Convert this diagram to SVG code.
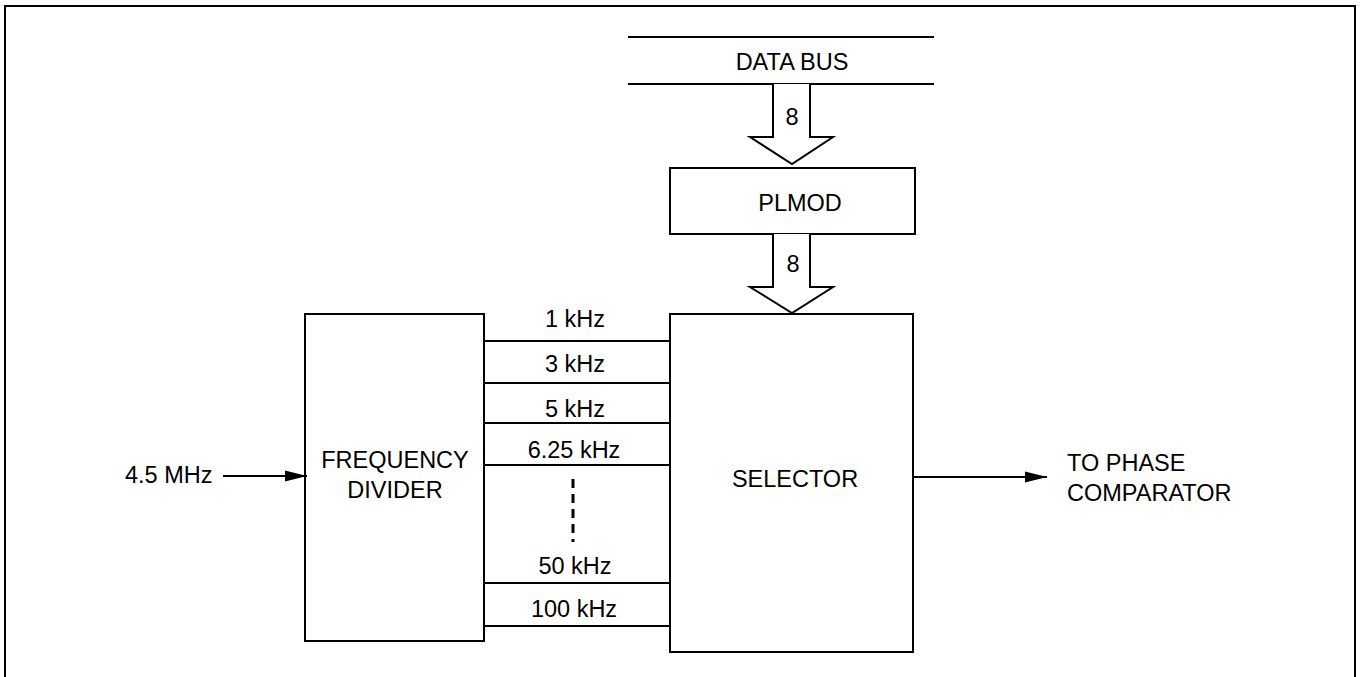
<svg xmlns="http://www.w3.org/2000/svg" width="1360" height="677" viewBox="0 0 1360 677">
<style>
.l{stroke:#000;stroke-width:2;fill:none}
.b{stroke:#000;stroke-width:2;fill:#fff}
.t{font-family:"Liberation Sans",Arial,sans-serif;font-size:23.5px;fill:#000}
.c{text-anchor:middle}
</style>
<defs>
<marker id="ah" markerWidth="22" markerHeight="12" refX="22" refY="6" orient="auto" markerUnits="userSpaceOnUse">
<path d="M0,0.5 L22,6 L0,11.5 Z" fill="#000"/>
</marker>
</defs>
<rect width="1360" height="677" fill="#fff"/>
<path class="l" d="M5,690 V6 H1355 V690"/>
<g id="databus">
<line class="l" x1="628" y1="37" x2="934" y2="37"/>
<line class="l" x1="628" y1="84" x2="934" y2="84"/>
<text class="t c" x="792" y="70">DATA BUS</text>
</g>
<g id="plmod">
<rect class="b" x="670" y="168" width="245" height="66"/>
<text class="t c" x="800" y="211">PLMOD</text>
</g>
<g id="selector">
<rect class="b" x="670" y="314" width="243" height="338"/>
<text class="t c" x="795" y="487">SELECTOR</text>
</g>
<g id="divider">
<rect class="b" x="305" y="314" width="179" height="327"/>
<text class="t c" x="395" y="468">FREQUENCY</text>
<text class="t c" x="395" y="498">DIVIDER</text>
</g>
<g id="connectors">
<path class="b" d="M773,84 V137 H750 L792,164 L833,137 H810 V84"/>
<text class="t c" x="792" y="125">8</text>
<path class="b" d="M773,234 V287 H750 L792,313 L833,287 H810 V234"/>
<text class="t c" x="793" y="272">8</text>
<line class="l" x1="484" y1="341" x2="670" y2="341"/>
<line class="l" x1="484" y1="383" x2="670" y2="383"/>
<line class="l" x1="484" y1="423" x2="670" y2="423"/>
<line class="l" x1="484" y1="465" x2="670" y2="465"/>
<line class="l" x1="484" y1="583" x2="670" y2="583"/>
<line class="l" x1="484" y1="626" x2="670" y2="626"/>
<line x1="573" y1="479" x2="573" y2="542" stroke="#000" stroke-width="3" stroke-dasharray="9,6"/>
<text class="t c" x="575" y="327">1 kHz</text>
<text class="t c" x="575" y="372">3 kHz</text>
<text class="t c" x="575" y="417">5 kHz</text>
<text class="t c" x="574" y="458">6.25 kHz</text>
<text class="t c" x="575" y="574">50 kHz</text>
<text class="t c" x="574" y="617">100 kHz</text>
<line class="l" x1="223" y1="476" x2="307" y2="476" marker-end="url(#ah)"/>
<text class="t" x="125" y="483">4.5 MHz</text>
<line class="l" x1="913" y1="477" x2="1047" y2="477" marker-end="url(#ah)"/>
<text class="t" x="1067" y="471">TO PHASE</text>
<text class="t" x="1067" y="501">COMPARATOR</text>
</g>
</svg>
